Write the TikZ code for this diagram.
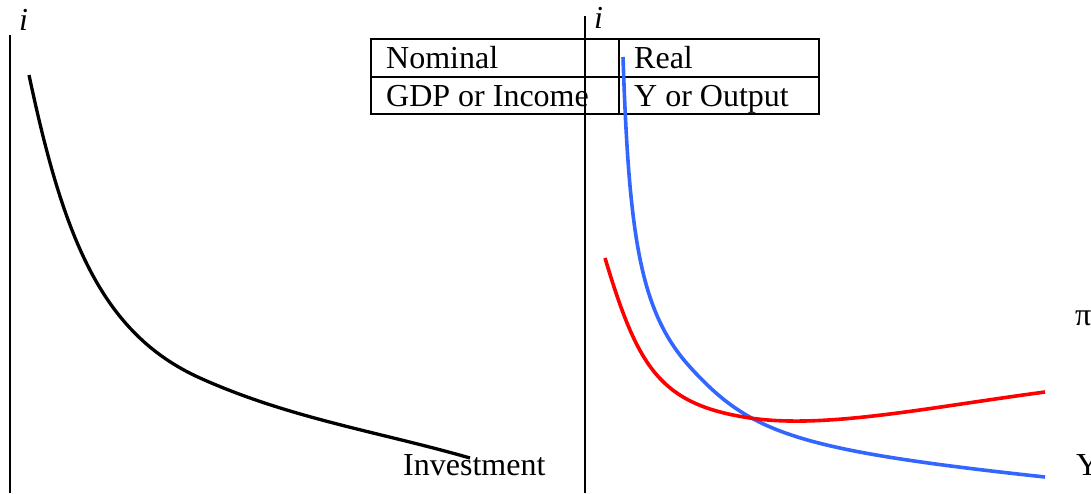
\documentclass[tikz,border=0pt]{standalone}
\usepackage{fontspec}
\setmainfont{Liberation Serif}
\definecolor{curveblue}{RGB}{51,102,255}
\definecolor{curvered}{RGB}{255,0,0}
\begin{document}
\begin{tikzpicture}[x=1pt,y=-1pt,
  lbl/.style={anchor=base west,inner sep=0pt,font=\fontsize{32}{36}\selectfont},
  axisline/.style={line width=1.5pt,black},
  tableline/.style={line width=1.8pt,black},
  curve/.style={line width=3.6pt}]
\useasboundingbox (0,0) rectangle (1091,493);
% axes
\coordinate (a1top) at (10,35);
\coordinate (a1bot) at (10,493);
\coordinate (a2top) at (585,16);
\coordinate (a2bot) at (585,493);
\draw[axisline] (a1top) -- (a1bot);
\draw[axisline] (a2top) -- (a2bot);
\node[lbl] (i1) at (19,30) {\itshape i};
\node[lbl] (i2) at (594,28) {\itshape i};
% table
\coordinate (tnw) at (371,39);
\coordinate (tse) at (819,114);
\coordinate (tml) at (371,77);
\coordinate (tmr) at (819,77);
\coordinate (tct) at (619,39);
\coordinate (tcb) at (619,114);
\draw[tableline] (tnw) rectangle (tse);
\draw[tableline] (tml) -- (tmr);
\draw[tableline] (tct) -- (tcb);
\node[lbl] (nom) at (386,68) {Nominal};
\node[lbl] (real) at (634,68) {Real};
\node[lbl] (gdp) at (386,106) {GDP or Income};
\node[lbl] (yout) at (634,106) {Y or Output};
% black investment curve
\coordinate (b0) at (29,75);
\coordinate (b1) at (200,378);
\coordinate (b2) at (470,458);
\draw[curve,black,line width=3.3pt] (b0) .. controls (63,235) and (100,333) .. (b1)
  .. controls (290,418.5) and (380,432) .. (b2);
% blue curve
\coordinate (u0) at (623,57);
\coordinate (u1) at (690,367);
\coordinate (u2) at (1045,477);
\draw[curve,curveblue] (u0) .. controls (629,237) and (640,312) .. (u1)
  .. controls (750,433) and (795,450) .. (u2);
% red curve
\coordinate (r0) at (605,258);
\coordinate (r1) at (750,418);
\coordinate (r2) at (1045,392);
\draw[curve,curvered] (r0) .. controls (638,368) and (660,404.5) .. (r1)
  .. controls (825,429) and (925,408) .. (r2);
% labels
\node[lbl] (inv) at (403,475) {Investment};
\node[lbl] (pi) at (1075,325) {π};
\node[lbl] (Y) at (1076,475) {Y};
\end{tikzpicture}
\end{document}
